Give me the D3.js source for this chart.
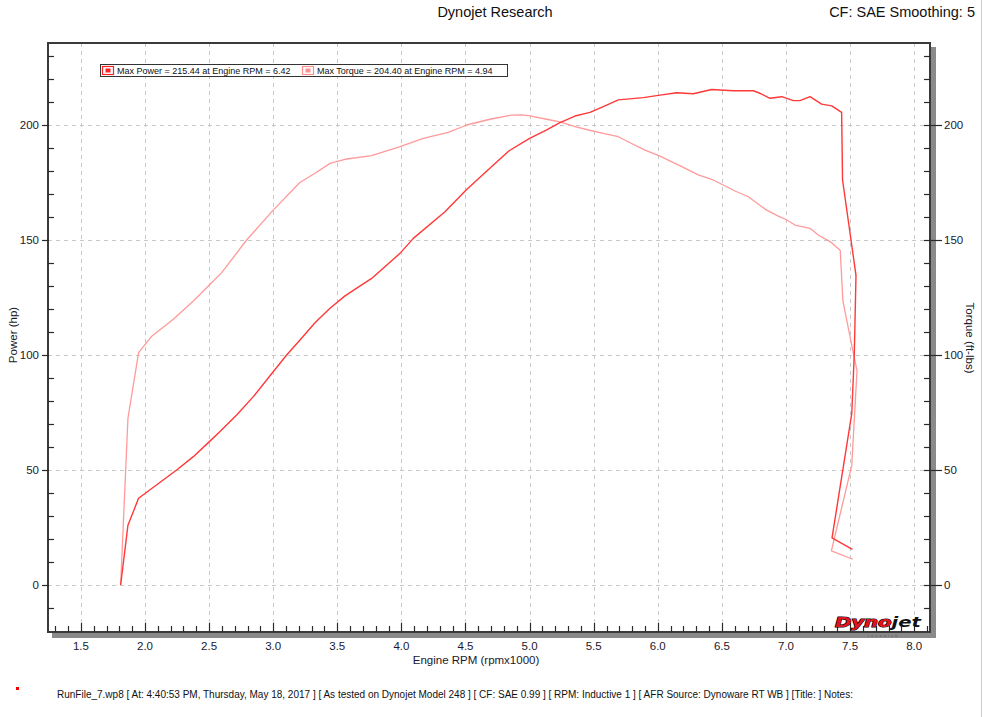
<!DOCTYPE html>
<html><head><meta charset="utf-8">
<script src="https://cdn.jsdelivr.net/npm/d3@7"></script>
<style>
body{margin:0;background:#fff;}
svg{display:block;font-family:"Liberation Sans","DejaVu Sans",Arial,sans-serif;}
</style></head>
<body><svg id="c" width="987" height="717"></svg>
<script>
// ---- data ----
const powerRpm = [1.81,1.867,1.95,2.247,2.377,2.494,2.585,2.715,2.845,3.0,3.105,3.209,3.326,3.443,3.56,3.768,3.989,4.093,4.34,4.509,4.66,4.84,5.0,5.13,5.237,5.354,5.471,5.575,5.692,5.887,6.017,6.147,6.277,6.42,6.589,6.745,6.797,6.875,6.967,7.057,7.109,7.187,7.278,7.357,7.434,7.441,7.546,7.533,7.513,7.359,7.518];
const powerHp = [0,26,37.7,50,55.8,61.9,66.7,73.9,81.9,92.7,100,106.5,114,120.3,125.7,133.3,144.2,150.7,162.3,172,179.7,188.8,194.2,197.8,201,203.9,205.5,208,210.9,211.9,213,214,213.6,215.44,214.9,214.9,213.8,211.6,212.3,210.6,210.6,212.3,209.1,208.3,205.5,176.2,134.6,100.9,74.5,20.5,15.5];
const torqueRpm = [1.81,1.867,1.95,2.05,2.221,2.377,2.494,2.598,2.793,3.0,3.208,3.326,3.443,3.56,3.768,3.989,4.171,4.366,4.509,4.691,4.86,4.94,5.003,5.133,5.237,5.354,5.484,5.575,5.692,5.783,5.90,6.017,6.199,6.316,6.42,6.511,6.602,6.706,6.849,6.94,7.006,7.07,7.187,7.252,7.343,7.423,7.444,7.533,7.554,7.513,7.354,7.521];
const torqueFt = [0,72.5,101,108,115.5,123.5,130,135.8,150,163,175,179,183.3,185.1,186.7,190.6,194.2,196.8,200,202.5,204.3,204.4,204,202.5,201.4,199.3,197.5,196.4,194.9,192.3,189.1,186.5,181.6,178.3,176.4,173.9,171.3,168.8,163,160.4,158.7,156.5,155.1,152.2,149.3,145.5,123.4,98.6,93.2,52.0,14.8,11.2];
const xTicks = [1.5,2.0,2.5,3.0,3.5,4.0,4.5,5.0,5.5,6.0,6.5,7.0,7.5,8.0];
const yTicks = [0,50,100,150,200];
const legendLabels = ["Max Power  = 215.44 at Engine RPM  = 6.42","Max Torque  = 204.40 at Engine RPM  = 4.94"];
const titleText = "Dynojet Research";
const cornerText = "CF: SAE Smoothing: 5";
const footerText = "RunFile_7.wp8 [ At: 4:40:53 PM, Thursday, May 18, 2017 ] [ As tested on Dynojet Model 248 ] [ CF: SAE 0.99 ] [ RPM: Inductive 1 ] [ AFR Source: Dynoware RT WB ] [Title: ]  Notes:";

// ---- layout ----
const L=48, R=930, T=43, B=632;
const svg = d3.select("#c");
const x = d3.scaleLinear().domain([1.2434, 8.1233]).range([L, R]);
const y = d3.scaleLinear().domain([-20.43, 235.65]).range([B, T]);

// window border on right
svg.append("line").attr("x1",981.5).attr("x2",981.5).attr("y1",0).attr("y2",717).attr("stroke","#cfcfcf");

// shadow
svg.append("rect").attr("x",R+1).attr("y",T+4).attr("width",5).attr("height",B-T+2).attr("fill","#8a8a8a");
svg.append("rect").attr("x",L+4).attr("y",B+1).attr("width",R-L+2).attr("height",5).attr("fill","#8a8a8a");

// grid
const g = svg.append("g");
g.selectAll(".gx").data(xTicks).enter().append("line")
 .attr("x1",d=>Math.round(x(d))+0.5).attr("x2",d=>Math.round(x(d))+0.5).attr("y1",T).attr("y2",B)
 .attr("stroke","#c8c8c8").attr("stroke-dasharray","4,4");
g.selectAll(".gy").data(yTicks).enter().append("line")
 .attr("y1",d=>Math.round(y(d))+0.5).attr("y2",d=>Math.round(y(d))+0.5).attr("x1",L).attr("x2",R)
 .attr("stroke","#c8c8c8").attr("stroke-dasharray","4,4");

// curves
svg.append("path").datum(torqueFt).attr("d", d3.line().x((d,i)=>x(torqueRpm[i])).y(d=>y(d)))
 .attr("fill","none").attr("stroke","#ff9a9a").attr("stroke-width",1.3).attr("stroke-linejoin","round");
svg.append("path").datum(powerHp).attr("d", d3.line().x((d,i)=>x(powerRpm[i])).y(d=>y(d)))
 .attr("fill","none").attr("stroke","#ff3838").attr("stroke-width",1.4).attr("stroke-linejoin","round");

// frame
svg.append("rect").attr("x",L).attr("y",T).attr("width",R-L).attr("height",B-T)
 .attr("fill","none").attr("stroke","#3a3a3a").attr("stroke-width",2);

// axes ticks
const minorX = d3.range(13,82).map(v=>v/10).filter(v=>x(v)>L+1 && x(v)<R-1);
svg.append("g").selectAll("line").data(minorX).enter().append("line")
 .attr("x1",d=>Math.round(x(d))+0.5).attr("x2",d=>Math.round(x(d))+0.5)
 .attr("y1",B).attr("y2",d=>xTicks.some(t=>Math.abs(t-d)<1e-6)? B-9 : B-6)
 .attr("stroke","#2a2a2a").attr("stroke-width",1.2);
svg.append("g").selectAll("text").data(xTicks).enter().append("text")
 .attr("x",d=>x(d)).attr("y",B+18).attr("text-anchor","middle").attr("font-size",11.5).attr("fill","#1a1a2a")
 .text(d=>d3.format(".1f")(d));

const minorY = d3.range(-20,240,10).filter(v=>y(v)>T+2 && y(v)<B-2);
const isMajor = d=>yTicks.includes(d);
svg.append("g").selectAll("line").data(minorY).enter().append("line")
 .attr("y1",d=>Math.round(y(d))+0.5).attr("y2",d=>Math.round(y(d))+0.5)
 .attr("x1",d=>isMajor(d)? L-6 : L).attr("x2",d=>isMajor(d)? L+1 : L+6)
 .attr("stroke","#2a2a2a").attr("stroke-width",1.2);
svg.append("g").selectAll("line").data(minorY).enter().append("line")
 .attr("y1",d=>Math.round(y(d))+0.5).attr("y2",d=>Math.round(y(d))+0.5)
 .attr("x1",R-6).attr("x2",d=>isMajor(d)? R+12 : R)
 .attr("stroke","#2a2a2a").attr("stroke-width",1.2);
svg.append("g").selectAll("text").data(yTicks).enter().append("text")
 .attr("x",L-9).attr("y",d=>y(d)+4).attr("text-anchor","end").attr("font-size",11.5).attr("fill","#1a1a2a").text(d=>d);
svg.append("g").selectAll("text").data(yTicks).enter().append("text")
 .attr("x",R+14).attr("y",d=>y(d)+4).attr("text-anchor","start").attr("font-size",11.5).attr("fill","#1a1a2a").text(d=>d);

// axis titles
svg.append("text").attr("transform","translate(17,335) rotate(-90)").attr("text-anchor","middle")
 .attr("font-size",11.5).attr("fill","#1a1a2a").text("Power (hp)");
svg.append("text").attr("transform","translate(966,338) rotate(90)").attr("text-anchor","middle")
 .attr("font-size",11.5).attr("fill","#1a1a2a").text("Torque (ft-lbs)");
svg.append("text").attr("x",476).attr("y",664).attr("text-anchor","middle")
 .attr("font-size",11.5).attr("fill","#1a1a2a").text("Engine RPM (rpmx1000)");

// titles
svg.append("text").attr("x",495).attr("y",17).attr("text-anchor","middle").attr("font-size",14.5).attr("fill","#111").text(titleText);
svg.append("text").attr("x",975).attr("y",17).attr("text-anchor","end").attr("font-size",14.5).attr("fill","#111").text(cornerText);

// legend
const lg = svg.append("g");
lg.append("rect").attr("x",100.5).attr("y",64.5).attr("width",407).attr("height",12).attr("fill","#fff").attr("stroke","#333");
const legendColors = ["#ff2020","#ff9090"];
const legendX = [102,302];
legendLabels.forEach((t,i)=>{
  lg.append("rect").attr("x",legendX[i]+0.5).attr("y",66.5).attr("width",11).attr("height",8).attr("fill","#fff").attr("stroke",legendColors[i]).attr("stroke-width",1.2);
  lg.append("rect").attr("x",legendX[i]+3.5).attr("y",68.5).attr("width",5).attr("height",4).attr("fill",legendColors[i]);
  lg.append("text").attr("x",legendX[i]+15).attr("y",74).attr("font-size",9).attr("fill","#111").text(t);
});

// footer
svg.append("rect").attr("x",16).attr("y",687).attr("width",3).attr("height",3).attr("fill","#e00");
svg.append("text").attr("x",57).attr("y",698).attr("font-size",10).attr("fill","#111").text(footerText);

// logo (single text with two spans, so nothing overlaps)
const logo = svg.append("text").attr("x",835).attr("y",627)
  .attr("font-family","'DejaVu Sans',sans-serif").attr("font-weight","bold").attr("font-style","italic")
  .attr("font-size",14).attr("textLength",86).attr("lengthAdjust","spacingAndGlyphs");
logo.append("tspan").attr("fill","#e0141e").attr("stroke","#000").attr("stroke-width",1.1).attr("paint-order","stroke").text("Dyno");
logo.append("tspan").attr("fill","#111").text("jet");
svg.append("text").attr("x",868).attr("y",637).attr("font-size",4).attr("fill","#555").attr("letter-spacing",2).text("research");
</script></body></html>
